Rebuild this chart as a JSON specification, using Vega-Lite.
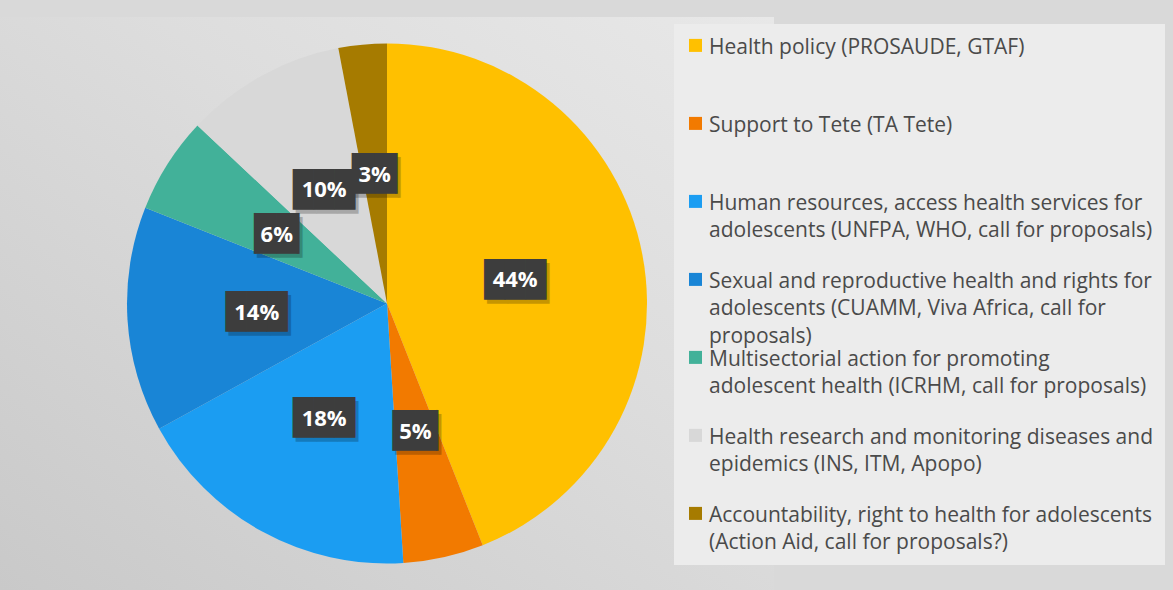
{
  "$schema": "https://vega.github.io/schema/vega-lite/v6.json",
  "width": 774,
  "height": 573,
  "padding": {"left": 0, "top": 17, "right": 10, "bottom": 0},
  "background": "#d9d9d9",
  "view": {
    "stroke": null,
    "fill": {
      "gradient": "linear",
      "x1": 0, "y1": 1, "x2": 1, "y2": 0,
      "stops": [
        {"offset": 0, "color": "#c9c9c9"},
        {"offset": 0.6, "color": "#dddddd"},
        {"offset": 1, "color": "#e8e8e8"}
      ]
    }
  },
  "config": {
    "style": {
      "guide-label": {"lineHeight": 27.35, "dy": -8.5}
    }
  },
  "data": {
    "values": [
      {"i": 1, "category": "Health policy (PROSAUDE, GTAF)", "share": 0.44},
      {"i": 2, "category": "Support to Tete (TA Tete)", "share": 0.05},
      {"i": 3, "category": "Human resources, access health services for adolescents (UNFPA, WHO, call for proposals)", "share": 0.18},
      {"i": 4, "category": "Sexual and reproductive health and rights for adolescents (CUAMM, Viva Africa, call for proposals)", "share": 0.14},
      {"i": 5, "category": "Multisectorial action for promoting adolescent health (ICRHM, call for proposals)", "share": 0.06},
      {"i": 6, "category": "Health research and monitoring diseases and epidemics (INS, ITM, Apopo)", "share": 0.10},
      {"i": 7, "category": "Accountability, right to health for adolescents (Action Aid, call for proposals?)", "share": 0.03}
    ]
  },
  "encoding": {
    "theta": {"field": "share", "type": "quantitative", "stack": true},
    "order": {"field": "i", "type": "quantitative"}
  },
  "layer": [
    {
      "mark": {"type": "arc", "outerRadius": 260, "strokeWidth": 0},
      "encoding": {
        "color": {
          "field": "category",
          "type": "nominal",
          "scale": {
            "domain": [
              "Health policy (PROSAUDE, GTAF)",
              "Support to Tete (TA Tete)",
              "Human resources, access health services for adolescents (UNFPA, WHO, call for proposals)",
              "Sexual and reproductive health and rights for adolescents (CUAMM, Viva Africa, call for proposals)",
              "Multisectorial action for promoting adolescent health (ICRHM, call for proposals)",
              "Health research and monitoring diseases and epidemics (INS, ITM, Apopo)",
              "Accountability, right to health for adolescents (Action Aid, call for proposals?)"
            ],
            "range": ["#ffc000", "#f27a00", "#1b9df2", "#1985d6", "#42b199", "#d8d8d8", "#a67b00"]
          },
          "legend": {
            "title": null,
            "orient": "none",
            "direction": "vertical",
            "legendX": 674,
            "legendY": 6.9,
            "padding": 11,
            "fillColor": "#ececec",
            "strokeColor": null,
            "symbolType": "square",
            "symbolSize": 169,
            "symbolStrokeWidth": 0,
            "symbolOffset": 0,
            "labelOffset": 3,
            "labelFont": "Open Sans",
            "labelFontSize": 21,
            "labelColor": "#4a4a4a",
            "labelLimit": 800,
            "labelBaseline": "top",
            "rowPadding": 0,
            "labelExpr": "datum.label == 'Health policy (PROSAUDE, GTAF)' ? ['Health policy (PROSAUDE, GTAF)', ' ', ' '] : datum.label == 'Support to Tete (TA Tete)' ? ['Support to Tete (TA Tete)', ' ', ' '] : indexof(datum.label, 'Human resources') == 0 ? ['Human resources, access health services for', 'adolescents (UNFPA, WHO, call for proposals)', ' '] : indexof(datum.label, 'Sexual') == 0 ? ['Sexual and reproductive health and rights for', 'adolescents (CUAMM, Viva Africa, call for', 'proposals)'] : indexof(datum.label, 'Multisectorial') == 0 ? ['Multisectorial action for promoting', 'adolescent health (ICRHM, call for proposals)', ' '] : indexof(datum.label, 'Health research') == 0 ? ['Health research and monitoring diseases and', 'epidemics (INS, ITM, Apopo)', ' '] : ['Accountability, right to health for adolescents', '(Action Aid, call for proposals?)']",
            "encode": {
              "labels": {
                "lineHeight": {"value": 27.35},
                "dy": {"value": -8.5}
              }
            }
          }
        }
      }
    },
    {
      "mark": {"type": "text", "radius": 130.5, "font": "DejaVu Sans Mono", "fontSize": 34.4, "color": "#000000", "opacity": 0.22, "dx": 3, "dy": 5.6, "align": "center", "baseline": "middle"},
      "encoding": {
        "text": {"condition": {"test": "datum.share >= 0.1", "value": "███"}, "value": "▕██▏"}
      }
    },
    {
      "mark": {"type": "text", "radius": 130.5, "font": "DejaVu Sans Mono", "fontSize": 34.4, "color": "#3d3d3d", "dy": 1.6, "align": "center", "baseline": "middle"},
      "encoding": {
        "text": {"condition": {"test": "datum.share >= 0.1", "value": "███"}, "value": "▕██▏"}
      }
    },
    {
      "mark": {"type": "text", "radius": 130.5, "font": "Open Sans", "fontWeight": "bold", "fontSize": 22, "color": "#ffffff", "dy": 1, "align": "center", "baseline": "middle"},
      "encoding": {
        "text": {"field": "share", "type": "quantitative", "format": ".0%"}
      }
    }
  ]
}
